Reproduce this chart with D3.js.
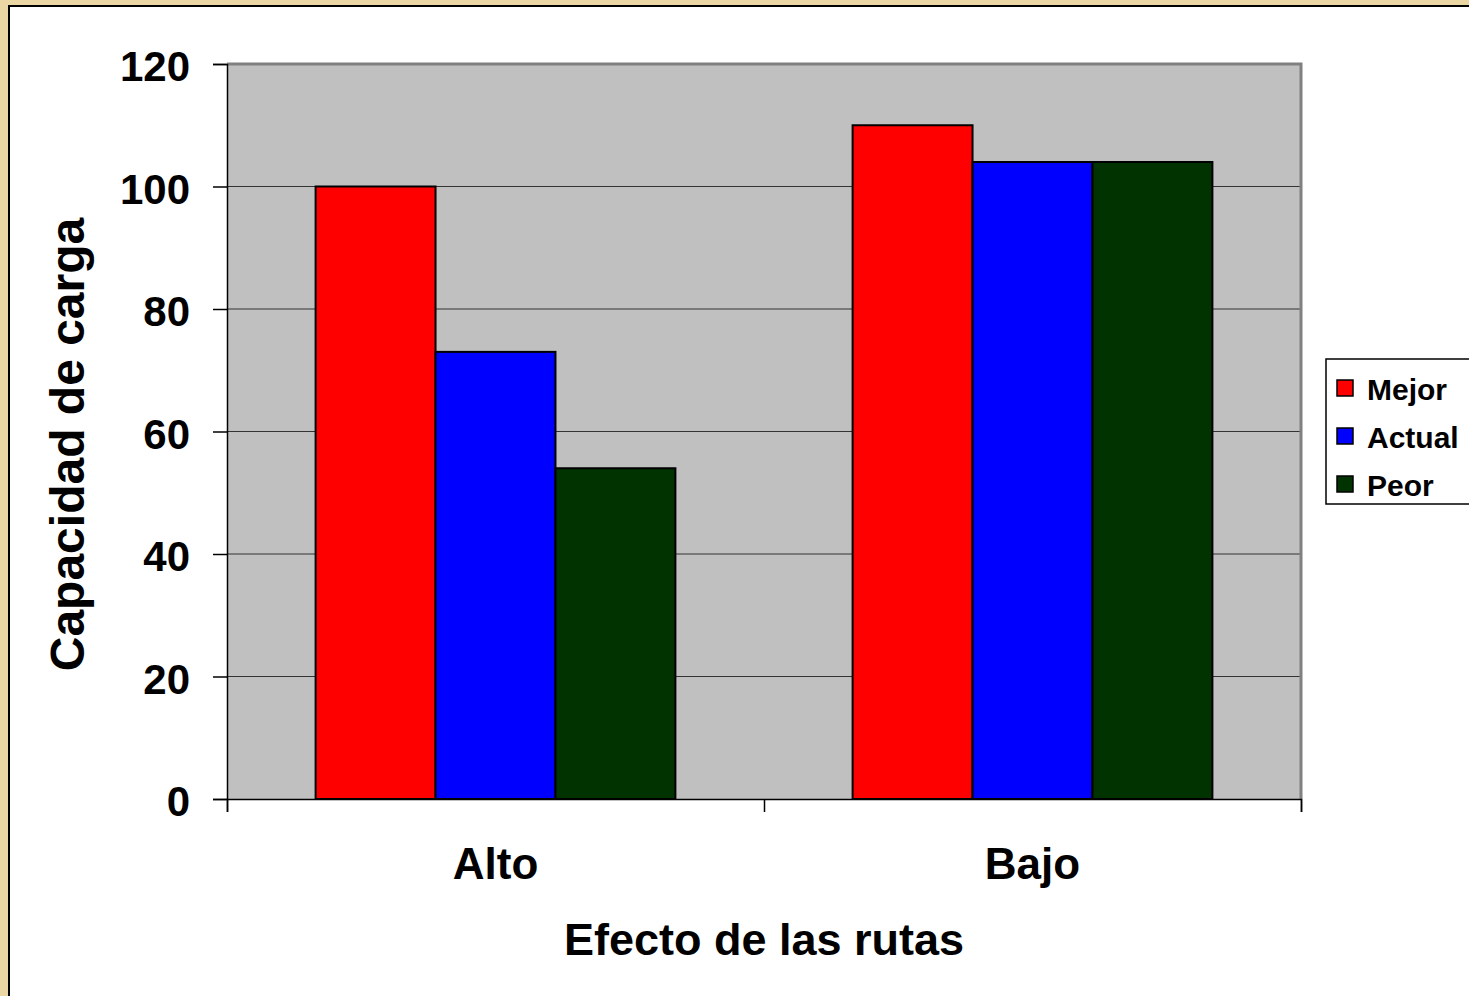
<!DOCTYPE html>
<html>
<head>
<meta charset="utf-8">
<script src="https://cdn.jsdelivr.net/npm/d3@7"></script>
<style>
  html, body { margin: 0; padding: 0; background: #ebd7a4; overflow: hidden; }
  text { font-family: "Liberation Sans", Arial, sans-serif; font-weight: bold; fill: #000; }
</style>
</head>
<body>
<div id="chart"></div>
<script>
// Data
const categories = ["Alto", "Bajo"];
const seriesNames = ["Mejor", "Actual", "Peor"];
const mejor = [100, 110];
const actual = [73, 104];
const peor = [54, 104];
const yTicks = [0, 20, 40, 60, 80, 100, 120];

const seriesColors = ["#ff0000", "#0000ff", "#003300"];
const seriesValues = [mejor, actual, peor];

const w = 1469;
const h = 996;

// plot area bounds
const plotLeft = 227, plotRight = 1301, plotTop = 64, plotBottom = 799;

const svg = d3.select("#chart")
  .append("svg")
  .attr("width", w)
  .attr("height", h)

// tan page with a white sheet on it
svg.append("rect")
  .attr("x", 0).attr("y", 0).attr("width", w).attr("height", h)
  .attr("fill", "#ebd7a4")

svg.append("rect")
  .attr("x", 9).attr("y", 6).attr("width", w + 20).attr("height", h + 20)
  .attr("fill", "#fff")
  .attr("stroke", "#000")
  .attr("stroke-width", 2)

const x0 = d3.scaleBand()
  .domain(categories)
  .range([plotLeft, plotRight])
  .paddingInner(0.33)
  .paddingOuter(0.165)

const x1 = d3.scaleBand()
  .domain(seriesNames)
  .range([0, x0.bandwidth()])

const y = d3.scaleLinear()
  .domain([0, 120])
  .range([plotBottom, plotTop])

// gray plot area
svg.append("rect")
  .attr("x", plotLeft).attr("y", plotTop)
  .attr("width", plotRight - plotLeft).attr("height", plotBottom - plotTop)
  .attr("fill", "#c0c0c0")

// gridlines
svg.append("g")
  .selectAll("line")
  .data(yTicks.filter(d => d > 0 && d < 120))
  .enter()
  .append("line")
  .attr("x1", plotLeft).attr("x2", plotRight)
  .attr("y1", d => y(d)).attr("y2", d => y(d))
  .attr("stroke", "#333")
  .attr("stroke-width", 1)

// gray border on top and right of plot area
svg.append("path")
  .attr("d", `M${plotLeft},${plotTop}H${plotRight}V${plotBottom}`)
  .attr("fill", "none")
  .attr("stroke", "#808080")
  .attr("stroke-width", 3)

// bars
const groups = svg.append("g")
  .selectAll("g")
  .data(categories)
  .enter()
  .append("g")
  .attr("transform", d => `translate(${x0(d)},0)`)

groups.selectAll("rect")
  .data((d, i) => seriesNames.map((s, j) => ({ s: s, v: seriesValues[j][i], c: seriesColors[j] })))
  .enter()
  .append("rect")
  .attr("x", d => x1(d.s))
  .attr("y", d => y(d.v))
  .attr("width", x1.bandwidth())
  .attr("height", d => y(0) - y(d.v))
  .attr("fill", d => d.c)
  .attr("stroke", "#000")
  .attr("stroke-width", 2)

// y axis
const yAxis = d3.axisLeft(y).tickValues(yTicks).tickSize(14).tickPadding(23);
const gy = svg.append("g")
  .attr("transform", `translate(${plotLeft},0)`)
  .call(yAxis)
gy.select(".domain").attr("stroke", "#000").attr("stroke-width", 1.5)
gy.selectAll(".tick line").attr("stroke", "#000").attr("stroke-width", 1.5)
gy.selectAll("text").style("font-size", "42px").attr("fill", "#000").attr("dy", "0.4em")

// x axis with ticks at the category boundaries
const xAxisScale = d3.scaleLinear().domain([0, 2]).range([plotLeft, plotRight]);
const gx = svg.append("g")
  .attr("transform", `translate(0,${plotBottom})`)
  .call(d3.axisBottom(xAxisScale).tickValues([0, 1, 2]).tickSize(13).tickFormat(""))
gx.select(".domain").attr("stroke", "#000").attr("stroke-width", 1.5)
gx.selectAll(".tick line").attr("stroke", "#000").attr("stroke-width", 1.5)

svg.append("g")
  .selectAll("text")
  .data(categories)
  .enter()
  .append("text")
  .attr("x", d => x0(d) + x0.bandwidth() / 2)
  .attr("y", 879)
  .attr("text-anchor", "middle")
  .style("font-size", "44px")
  .text(d => d)

// axis titles
svg.append("text")
  .attr("x", (plotLeft + plotRight) / 2)
  .attr("y", 955)
  .attr("text-anchor", "middle")
  .style("font-size", "45px")
  .text("Efecto de las rutas")

svg.append("text")
  .attr("transform", `translate(84,${(plotTop + plotBottom) / 2 + 13}) rotate(-90)`)
  .attr("text-anchor", "middle")
  .style("font-size", "48px")
  .text("Capacidad de carga")

// legend
const legend = svg.append("g").attr("transform", "translate(1326,359)")
legend.append("rect")
  .attr("x", 0).attr("y", 0).attr("width", 200).attr("height", 145)
  .attr("fill", "#fff")
  .attr("stroke", "#000")
  .attr("stroke-width", 1.5)

const items = legend.selectAll(".item")
  .data(seriesNames)
  .enter()
  .append("g")
  .attr("class", "item")
  .attr("transform", (d, i) => `translate(0,${30 + i * 48})`)

items.append("rect")
  .attr("x", 11).attr("y", -9)
  .attr("width", 16).attr("height", 16)
  .attr("fill", (d, i) => seriesColors[i])
  .attr("stroke", "#000")
  .attr("stroke-width", 1.5)

items.append("text")
  .attr("x", 41)
  .attr("y", 11)
  .style("font-size", "30px")
  .text(d => d)
</script>
</body>
</html>
